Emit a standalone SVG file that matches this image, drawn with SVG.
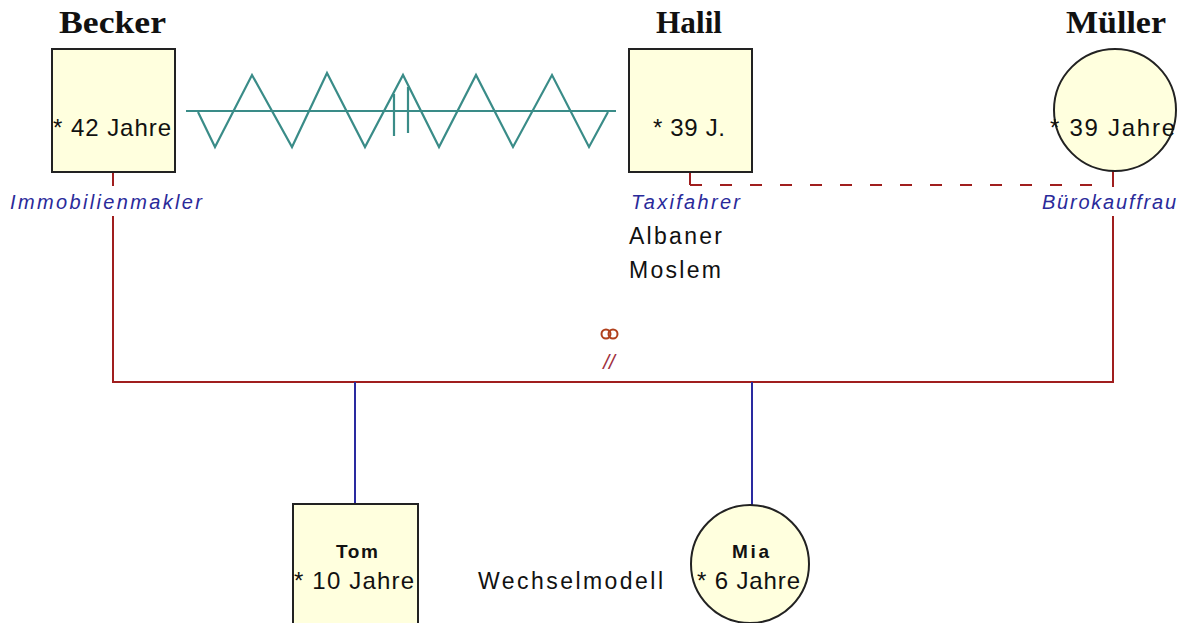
<svg xmlns="http://www.w3.org/2000/svg" width="1184" height="623" viewBox="0 0 1184 623">
<style>
.box{fill:#ffffde;stroke:#222;stroke-width:2}
.title{font-family:"Liberation Serif",serif;font-weight:bold;font-size:32px;fill:#111}
.age{font-family:"Liberation Sans",Arial,sans-serif;font-size:24px;fill:#111}
.job{font-family:"Liberation Sans",Arial,sans-serif;font-style:italic;font-size:20px;fill:#2a2a9a}
.info{font-family:"Liberation Sans",Arial,sans-serif;font-size:23px;fill:#111}
.kid{font-family:"Liberation Sans",Arial,sans-serif;font-weight:bold;font-size:19px;fill:#111}
.red{stroke:#a01e1e;stroke-width:2;fill:none}
.blue{stroke:#2a2aa0;stroke-width:2;fill:none}
.teal{stroke:#3a8c88;stroke-width:2.2;fill:none}
</style>
<rect width="1184" height="623" fill="#fff"/>
<g id="connectors">
  <path class="red" d="M113 172V186M113 216V382H1113V216M1113 170V187M690 172V185"/>
  <path class="red" d="M690 185H1100" stroke-dasharray="12 18"/>
  <path class="blue" d="M355 382V504M752 382V505"/>
  <path class="teal" d="M186 111H616"/>
  <path class="teal" d="M198 112L215 147L252 75L292 147L327 73L365 147L403 75L439 147L476 75L513 147L552 75L589 147L608 112"/>
  <path class="teal" d="M394 94V136M408 87V133"/>
  <circle cx="606" cy="334" r="4.5" stroke="#b0401c" stroke-width="2" fill="none"/>
  <circle cx="613" cy="334" r="4.5" stroke="#b0401c" stroke-width="2" fill="none"/>
  <text x="609" y="369" text-anchor="middle" font-family="Liberation Sans,Arial,sans-serif" font-style="italic" font-size="21" fill="#a03040">//</text>
</g>
<g id="becker">
  <text class="title" x="59" y="33" textLength="107" lengthAdjust="spacingAndGlyphs">Becker</text>
  <rect class="box" x="52" y="49" width="123" height="123"/>
  <text class="age" x="53" y="136" textLength="118" lengthAdjust="spacing">* 42 Jahre</text>
  <text class="job" x="10" y="209" textLength="192" lengthAdjust="spacing">Immobilienmakler</text>
</g>
<g id="halil">
  <text class="title" x="656" y="33" textLength="66" lengthAdjust="spacingAndGlyphs">Halil</text>
  <rect class="box" x="629" y="49" width="123" height="123"/>
  <text class="age" x="653" y="136" textLength="72" lengthAdjust="spacing">* 39 J.</text>
  <text class="job" x="631" y="209" textLength="109" lengthAdjust="spacing">Taxifahrer</text>
  <text class="info" x="629" y="244" textLength="93" lengthAdjust="spacing">Albaner</text>
  <text class="info" x="629" y="278" textLength="92" lengthAdjust="spacing">Moslem</text>
</g>
<g id="mueller">
  <text class="title" x="1066" y="33" textLength="100" lengthAdjust="spacingAndGlyphs">Müller</text>
  <circle class="box" cx="1115" cy="110" r="61"/>
  <text class="age" x="1050" y="136" textLength="125" lengthAdjust="spacing">* 39 Jahre</text>
  <text class="job" x="1042" y="209" textLength="134" lengthAdjust="spacing">Bürokauffrau</text>
</g>
<g id="tom">
  <rect class="box" x="293" y="504" width="125" height="125"/>
  <text class="kid" x="336" y="558" textLength="42" lengthAdjust="spacing">Tom</text>
  <text class="age" x="294" y="589" textLength="120" lengthAdjust="spacing">* 10 Jahre</text>
</g>
<g id="wechselmodell">
  <text class="info" x="478" y="589" textLength="185" lengthAdjust="spacing">Wechselmodell</text>
</g>
<g id="mia">
  <circle class="box" cx="750" cy="564" r="59"/>
  <text class="kid" x="732" y="558" textLength="37" lengthAdjust="spacing">Mia</text>
  <text class="age" x="697" y="589" textLength="103" lengthAdjust="spacing">* 6 Jahre</text>
</g>
</svg>
